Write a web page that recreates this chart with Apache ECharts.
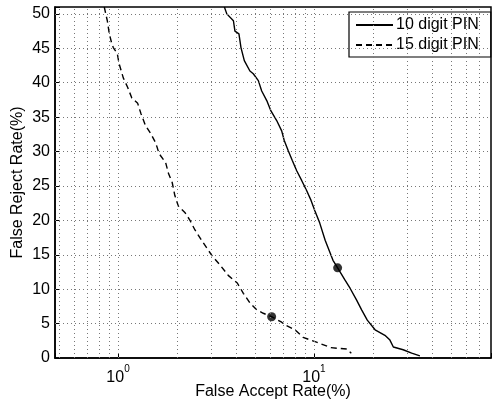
<!DOCTYPE html>
<html>
<head>
<meta charset="utf-8">
<script src="https://cdn.jsdelivr.net/npm/echarts@6/dist/echarts.min.js"></script>
<style>
  html, body { margin: 0; padding: 0; background: #fff; }
  #chart { width: 492px; height: 402px; }
</style>
</head>
<body>
<div id="chart"></div>
<script>
// 10 digit PIN curve (FAR %, FRR %)
var tenFar = [3.49, 3.59, 3.88, 3.95, 4.14, 4.24, 4.41, 4.71, 4.90, 5.20, 5.41, 5.74, 6.03, 6.45, 6.84, 7.05, 7.39, 7.75, 8.16, 8.65, 9.18, 9.66, 10.1, 10.7, 11.4, 12.5, 13.2, 14.4, 15.3, 16.5, 17.5, 18.7, 20.5, 23.0, 24.4, 25.4, 28.5, 31.5, 34.7];
var tenFrr = [51, 50.0, 49.0, 47.5, 47.1, 45.1, 43.2, 41.7, 41.3, 40.3, 38.8, 37.4, 35.9, 34.5, 33.0, 31.6, 30.1, 28.7, 27.2, 25.8, 24.3, 22.9, 21.4, 19.6, 17.1, 14.2, 13.1, 11.3, 10.1, 8.4, 7.0, 5.5, 4.1, 3.3, 2.6, 1.6, 1.2, 0.7, 0.3];
// 15 digit PIN curve
var fifteenFar = [0.851, 0.866, 0.882, 0.903, 0.929, 0.946, 0.992, 1.012, 1.064, 1.121, 1.175, 1.26, 1.31, 1.38, 1.47, 1.56, 1.62, 1.75, 1.81, 1.89, 1.95, 2.03, 2.20, 2.33, 2.47, 2.67, 3.01, 3.32, 3.65, 4.06, 4.36, 4.71, 5.10, 5.51, 6.08, 6.84, 7.11, 8.0, 8.8, 10.3, 12.2, 14.7, 15.5];
var fifteenFrr = [51, 50.0, 49.0, 47.1, 45.7, 45.1, 44.2, 42.8, 40.7, 39.3, 37.8, 37.0, 35.5, 33.8, 32.6, 31.2, 29.7, 28.4, 26.8, 25.5, 23.6, 22.1, 21.1, 20.0, 18.6, 17.1, 14.9, 13.5, 12.0, 10.9, 9.4, 8.0, 7.0, 6.5, 6.0, 5.2, 4.8, 4.1, 3.0, 2.3, 1.5, 1.3, 0.7];
// equal error points (FAR, FRR)
var eerTen = [13.2, 13.1];
var eerFifteen = [6.08, 6.0];
// grid positions
var xGridValues = [0.5, 0.6, 0.7, 0.8, 0.9, 1, 2, 3, 4, 5, 6, 7, 8, 9, 10, 20, 30, 40, 50, 60, 70];
var yGridValues = [5, 10, 15, 20, 25, 30, 35, 40, 45, 50];
var seriesNames = ["10 digit PIN", "15 digit PIN"];

function pairs(xs, ys) {
  var out = [];
  for (var i = 0; i < xs.length; i++) out.push([xs[i], ys[i]]);
  return out;
}

var font = "Liberation Sans, Arial, Helvetica, sans-serif";
var chart = echarts.init(document.getElementById("chart"));

var gridLines = [];
xGridValues.forEach(function (v) { gridLines.push({ xAxis: v }); });
yGridValues.forEach(function (v) { gridLines.push({ yAxis: v }); });

var option = {
  animation: false,
  backgroundColor: "#fff",
  textStyle: { fontFamily: font },
  grid: {
    left: 55, right: 1, top: 7, bottom: 44,
    containLabel: false,
    outerBoundsMode: "none",
    show: true,
    borderColor: "#000",
    borderWidth: 1.5
  },
  legend: {
    data: seriesNames,
    orient: "vertical",
    left: 349,
    top: 12,
    padding: [5, 12, 4, 6],
    itemGap: 4,
    itemWidth: 37,
    itemHeight: 14,
    backgroundColor: "#fff",
    borderColor: "#000",
    borderWidth: 1.2,
    borderRadius: 0,
    itemStyle: { opacity: 0 },
    textStyle: { fontSize: 16, lineHeight: 14, color: "#000", fontFamily: font, padding: [0, 0, 0, -2] }
  },
  //横坐标
  xAxis: {
    type: "log",
    logBase: 10,
    min: 0.477,
    max: 80,
    name: "False Accept Rate(%)",
    nameLocation: "middle",
    nameGap: 26,
    nameMoveOverlap: false,
    nameTextStyle: { fontSize: 16, color: "#000", fontFamily: font },
    axisLine: { lineStyle: { color: "#000", width: 1.5 } },
    axisTick: { show: true, inside: true, length: 5, lineStyle: { color: "#000" } },
    splitLine: { show: false },
    axisLabel: {
      margin: 6,
      color: "#000",
      formatter: function (v) {
        var e = Math.log10(v);
        if (Math.abs(e - Math.round(e)) > 1e-6) return "";
        return "{b|10}{s|" + Math.round(e) + "}";
      },
      rich: {
        b: { fontSize: 16, color: "#000", fontFamily: font, verticalAlign: "bottom", lineHeight: 22 },
        s: { fontSize: 10, color: "#000", fontFamily: font, verticalAlign: "top", lineHeight: 22 }
      }
    }
  },
  //纵坐标
  yAxis: {
    type: "value",
    min: 0,
    max: 51,
    interval: 5,
    name: "False Reject Rate(%)",
    nameLocation: "middle",
    nameGap: 29,
    nameMoveOverlap: false,
    nameTextStyle: { fontSize: 16, color: "#000", fontFamily: font },
    axisLine: { show: true, lineStyle: { color: "#000", width: 1.5 } },
    axisTick: { show: true, inside: true, length: 5, lineStyle: { color: "#000" } },
    splitLine: { show: false },
    axisLabel: {
      margin: 5,
      fontSize: 16,
      color: "#000",
      formatter: function (v) { return v % 5 === 0 ? String(v) : ""; }
    }
  },
  series: [
    {
      name: "grid",
      type: "line",
      data: [],
      silent: true,
      z: 1,
      markLine: {
        silent: true,
        symbol: "none",
        label: { show: false },
        animation: false,
        lineStyle: { color: "#777", width: 1, type: [1, 3] },
        data: gridLines
      }
    },
    {
      name: seriesNames[0],
      type: "line",
      data: pairs(tenFar, tenFrr),
      showSymbol: false,
      symbol: "none",
      z: 3,
      lineStyle: { color: "#000", width: 1.4, type: "solid" },
      itemStyle: { color: "#000" }
    },
    {
      name: seriesNames[1],
      type: "line",
      data: pairs(fifteenFar, fifteenFrr),
      showSymbol: false,
      symbol: "none",
      z: 3,
      lineStyle: { color: "#000", width: 1.4, type: [6, 4] },
      itemStyle: { color: "#000" }
    },
    {
      name: "eer",
      type: "scatter",
      data: [eerTen, eerFifteen],
      symbol: "circle",
      symbolSize: 9,
      z: 4,
      itemStyle: { color: "#000" }
    }
  ]
};
chart.setOption(option);
</script>
</body>
</html>
